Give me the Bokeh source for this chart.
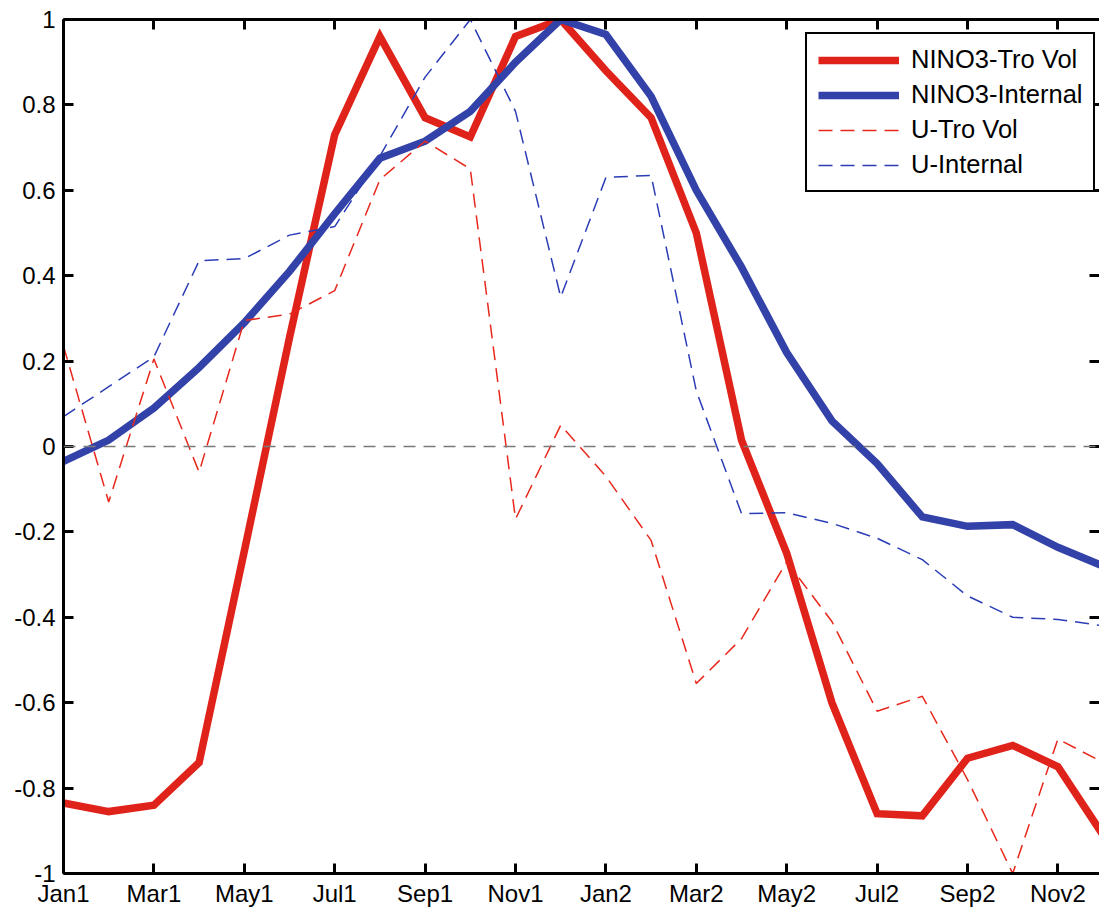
from bokeh.plotting import figure
from bokeh.models import (Range1d, LinearAxis, FixedTicker, CustomJSTickFormatter,
                          Span, Legend, LegendItem)
from bokeh.embed import file_html
from bokeh.resources import INLINE

# ---------------- data ----------------
months = list(range(24))  # Jan1 .. Dec2
tick_pos = [0, 2, 4, 6, 8, 10, 12, 14, 16, 18, 20, 22]
tick_labels = ["Jan1", "Mar1", "May1", "Jul1", "Sep1", "Nov1",
               "Jan2", "Mar2", "May2", "Jul2", "Sep2", "Nov2"]
y_ticks = [-1, -0.8, -0.6, -0.4, -0.2, 0, 0.2, 0.4, 0.6, 0.8, 1]

nino3_tro = [-0.835, -0.855, -0.84, -0.74, -0.245, 0.255, 0.73, 0.96, 0.77, 0.725,
             0.96, 1.0, 0.88, 0.77, 0.5, 0.015, -0.25, -0.6, -0.86, -0.865,
             -0.73, -0.70, -0.75, -0.91]
nino3_int = [-0.035, 0.015, 0.09, 0.185, 0.29, 0.41, 0.545, 0.675, 0.715, 0.785,
             0.9, 1.0, 0.965, 0.82, 0.60, 0.42, 0.22, 0.06, -0.04, -0.165,
             -0.187, -0.183, -0.236, -0.28]
u_tro = [0.235, -0.13, 0.205, -0.06, 0.295, 0.31, 0.365, 0.625, 0.715, 0.65,
         -0.17, 0.05, -0.07, -0.22, -0.555, -0.45, -0.27, -0.41, -0.62, -0.585,
         -0.78, -1.0, -0.685, -0.74]
u_int = [0.07, 0.14, 0.21, 0.435, 0.44, 0.495, 0.515, 0.68, 0.865, 1.0,
         0.785, 0.35, 0.63, 0.635, 0.13, -0.157, -0.155, -0.18, -0.215, -0.265,
         -0.35, -0.4, -0.405, -0.42]

names = ["NINO3-Tro Vol", "NINO3-Internal", "U-Tro Vol", "U-Internal"]

# ---------------- style ----------------
RED = "#e0231a"
BLUE = "#3242a8"
RED_T = "#e8281c"
BLUE_T = "#2b3db5"
FONT = "Liberation Sans"
FS = "24px"

p = figure(width=1099, height=912,
           x_range=Range1d(0, 22.92), y_range=Range1d(-1, 1),
           output_backend="svg", toolbar_location=None,
           min_border_left=63, min_border_right=0,
           min_border_top=19, min_border_bottom=39)
p.outline_line_color = None
p.xgrid.visible = False
p.ygrid.visible = False
p.background_fill_color = "white"
p.border_fill_color = "white"

xticker = FixedTicker(ticks=tick_pos)
yticker = FixedTicker(ticks=y_ticks)
yfmt = CustomJSTickFormatter(code="return Number(tick.toFixed(1)).toString();")

def style_axis(ax):
    ax.axis_line_color = "black"
    ax.axis_line_width = 3
    ax.major_tick_line_color = "black"
    ax.major_tick_line_width = 3
    ax.major_tick_in = 10
    ax.major_tick_out = 0
    ax.minor_tick_line_color = None
    ax.major_label_text_font = FONT
    ax.major_label_text_font_size = FS
    ax.major_label_text_color = "black"

# bottom axis
xa = p.xaxis[0]
xa.ticker = xticker
xa.major_label_overrides = {pos: lab for pos, lab in zip(tick_pos, tick_labels)}
style_axis(xa)
xa.major_label_standoff = 6

# left axis
ya = p.yaxis[0]
ya.ticker = yticker
ya.formatter = yfmt
style_axis(ya)
ya.major_label_standoff = 8

# top axis (ticks only)
ta = LinearAxis(ticker=xticker)
style_axis(ta)
ta.major_label_overrides = {pos: "" for pos in tick_pos}
ta.major_label_text_font_size = "0px"
ta.major_label_standoff = 0
p.add_layout(ta, "above")

# right axis (ticks only, spine cropped off)
ra = LinearAxis(ticker=yticker)
style_axis(ra)
ra.axis_line_color = None
ra.formatter = CustomJSTickFormatter(code="return '';")
ra.major_label_text_font_size = "0px"
ra.major_label_standoff = 0
p.add_layout(ra, "right")

# ---------------- lines ----------------
r1 = p.line(months, nino3_tro, line_color=RED, line_width=7.5, line_join="miter")
r2 = p.line(months, nino3_int, line_color=BLUE, line_width=7.5, line_join="miter")
r3 = p.line(months, u_tro, line_color=RED_T, line_width=1.5, line_dash="14 8")
r4 = p.line(months, u_int, line_color=BLUE_T, line_width=1.5, line_dash="14 8")

zero = Span(location=0, dimension="width", line_color="#7a7a7a",
            line_width=1.5, line_dash="12 8")
p.add_layout(zero)

legend = Legend(items=[LegendItem(label=n, renderers=[r])
                       for n, r in zip(names, [r1, r2, r3, r4])],
                location=(742, 681))
legend.border_line_color = "black"
legend.border_line_alpha = 1.0
legend.border_line_width = 2.5
legend.background_fill_color = "white"
legend.background_fill_alpha = 1
legend.label_text_font = FONT
legend.label_text_font_size = "25.5px"
legend.label_text_color = "black"
legend.glyph_width = 81
legend.glyph_height = 28
legend.label_height = 28
legend.label_standoff = 12
legend.padding = 11
legend.spacing = 6
legend.margin = 0
p.add_layout(legend)

open("out.html", "w").write(file_html(p, INLINE))
